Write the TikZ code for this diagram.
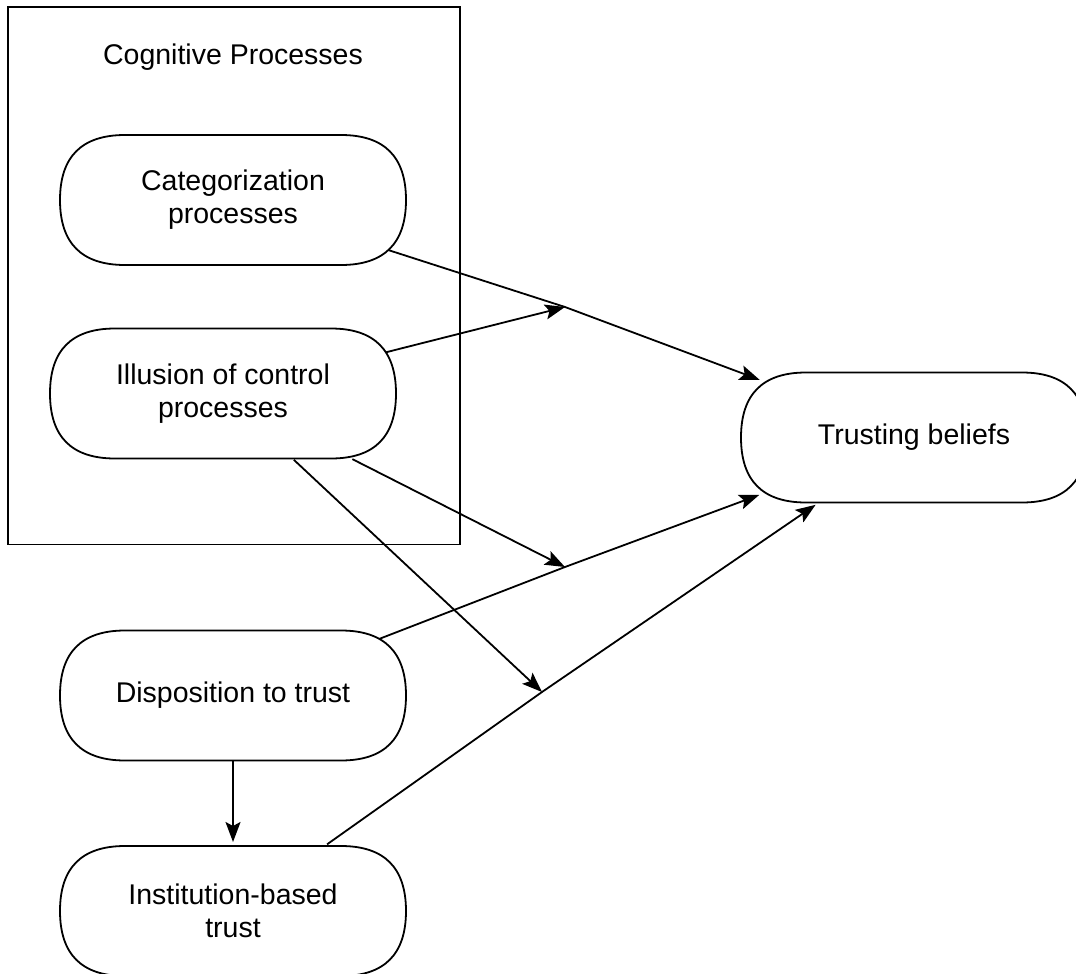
\documentclass[tikz,border=0pt]{standalone}
\usepackage{fontspec}
\setmainfont{Liberation Sans}
\usetikzlibrary{arrows.meta,shapes.misc}

% pill-shaped box: outline with quadratic corners, then the named text node on top
\newcommand\pillnode[3]{%
  \begin{scope}[shift={(#2)}]
    \draw[outline] (-173,0) .. controls (-173,-43.33) and (-151.33,-65) .. (-108,-65)
      -- (108,-65) .. controls (151.33,-65) and (173,-43.33) .. (173,0)
      .. controls (173,43.33) and (151.33,65) .. (108,65)
      -- (-108,65) .. controls (-151.33,65) and (-173,43.33) .. (-173,0) -- cycle;
  \end{scope}
  \node[pill] (#1) at (#2) {#3};
}

\begin{document}
\begin{tikzpicture}[x=1pt,y=-1pt,
  every node/.style={font=\fontsize{28.5}{33}\selectfont},
  pill/.style={shape=rounded rectangle, minimum width=346pt, minimum height=130pt,
    inner sep=0pt, outer sep=4pt, align=center},
  outline/.style={draw=black, line width=1.8pt, fill=white},
  group/.style={draw=black, line width=1.8pt, inner sep=0pt},
  link/.style={draw=black, line width=1.8pt,
    -{Stealth[length=20pt,width=15pt,inset=4pt]}},
  flatstart/.style={shorten <=-4pt},
]
\useasboundingbox (0,0) rectangle (1076,974);
\clip (0,0) rectangle (1076,974);

% container for the cognitive processes
\node[group, minimum width=452pt, minimum height=537.5pt] (cogbox) at (234,275.75) {};
\node[anchor=base] (cogtitle) at (233,65) {Cognitive Processes};

% constructs
\pillnode{cat}{233,200}{Categorization\\processes}
\pillnode{ill}{223,393.5}{Illusion of control\\processes}
\pillnode{tb}{914,437.5}{Trusting beliefs}
\pillnode{disp}{233,695.5}{Disposition to trust}
\pillnode{inst}{233,911}{Institution-based\\trust}

% points on the paths where moderating arrows land
\coordinate (m1) at (565,307);
\coordinate (m2) at (565,567);
\coordinate (m3) at (542,692);

% direct effects
\draw[link, shorten >=6pt] (cat) -- (m1) -- (tb);
\draw[link, shorten >=6pt] (disp) -- (m2) -- (tb);
\draw[link, flatstart, shorten >=-3pt] (inst) -- (m3) -- (tb);
\draw[link, flatstart] (disp) -- (inst);

% moderating effects
\draw[link] (ill) -- (m1);
\draw[link] (ill) -- (m2);
\draw[link, flatstart] (ill) -- (m3);
\end{tikzpicture}
\end{document}
